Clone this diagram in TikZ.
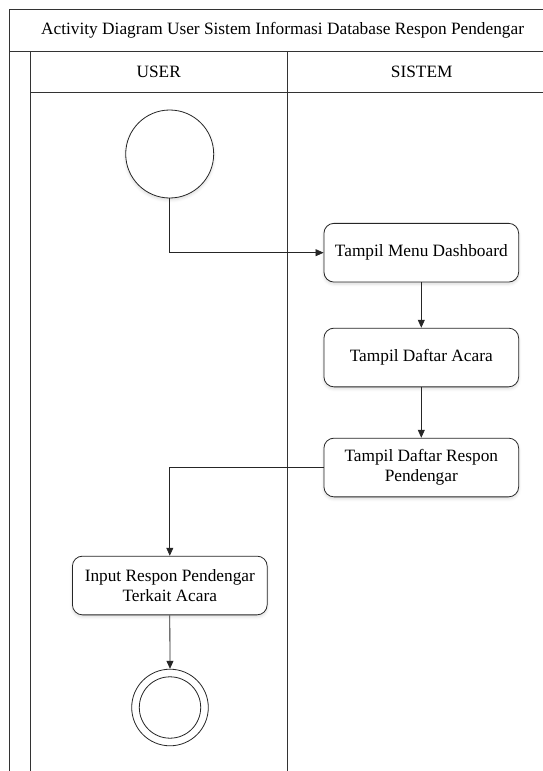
\documentclass[tikz,border=0pt]{standalone}
\usepackage{fontspec}
\setmainfont{Liberation Serif}
\usetikzlibrary{arrows.meta,shadows.blur}
\begin{document}
\begin{tikzpicture}[x=1pt,y=-1pt,
  lane/.style={line width=0.8pt,draw=black!80},
  soft/.style={blur shadow={shadow xshift=0pt,shadow yshift=-2pt,shadow blur radius=3pt,shadow opacity=15}},
  act/.style={draw=black!85,line width=0.8pt,rounded corners=10pt,fill=white,
    minimum width=194.7pt,minimum height=58.7pt,inner sep=0pt,align=center,
    font=\fontsize{17.3}{19.5}\selectfont,soft},
  flow/.style={line width=0.8pt,draw=black!85,-{Triangle[length=8pt,width=7pt]}},
  label/.style={font=\fontsize{17.3}{19.5}\selectfont,inner sep=0pt}
]
\useasboundingbox (0,0) rectangle (542,771);

% swimlane frame
\draw[lane] (560,9.5) -- (9.5,9.5) -- (9.5,771);
\draw[lane] (9.5,51) -- (560,51);
\draw[lane] (30.4,51) -- (30.4,771);
\draw[lane] (30.4,92) -- (560,92);
\draw[lane] (287,51) -- (287,771);

\node[label] (title) at (282.6,30) {Activity Diagram User Sistem Informasi Database Respon Pendengar};
\node[label] (huser) at (158.7,71.5) {USER};
\node[label] (hsistem) at (421.7,71.5) {SISTEM};

% initial and final states
\node[circle,draw=black!85,line width=0.8pt,fill=white,minimum size=88pt,inner sep=0pt,soft] (start) at (169.7,154) {};
\node[circle,draw=black!85,line width=0.8pt,fill=white,minimum size=76.6pt,inner sep=0pt] (stop) at (170,707.5) {};
\draw[black!85,line width=0.8pt] (stop.center) circle (30.7);

% activities
\node[act] (dash) at (421.3,252.7) {Tampil Menu Dashboard};
\node[act] (acara) at (421.3,357.5) {Tampil Daftar Acara};
\node[act] (respon) at (421.3,467.5) {Tampil Daftar Respon\\Pendengar};
\node[act] (input) at (169.8,585.5) {Input Respon Pendengar\\Terkait Acara};

% control flow
\draw[flow] (start.south) |- (dash.west);
\draw[flow] (dash.south) -- (acara.north);
\draw[flow] (acara.south) -- (respon.north);
\draw[flow] (respon.west) -| (input.north);
\draw[flow] (input.south) -- (stop.north);
\end{tikzpicture}
\end{document}
